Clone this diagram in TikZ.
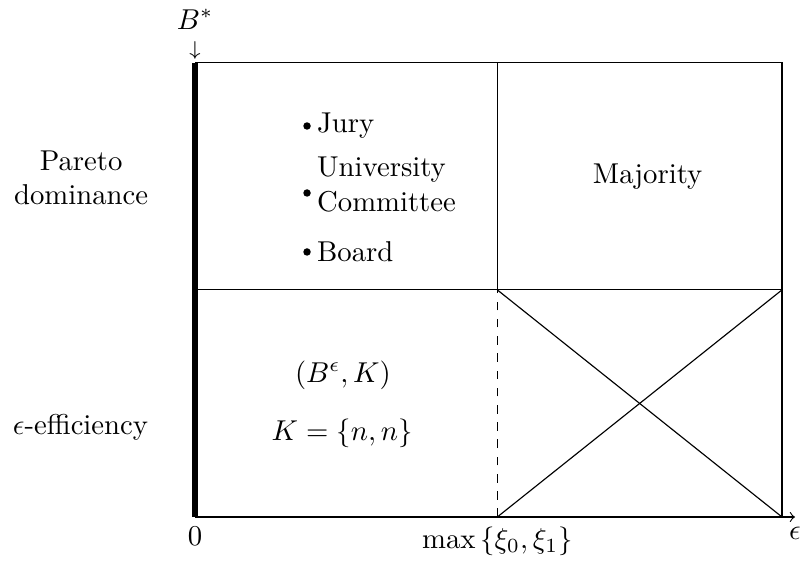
\documentclass[tikz,border=0pt]{standalone}
\usepackage{amsfonts, amssymb, amsmath}
\usepackage{tikz}

\begin{document}
\begin{tikzpicture}[>=to]
    \useasboundingbox (-2.387,-0.539) rectangle (7.405,6.328);

    \coordinate (o) at (0,0);
    \coordinate (xi) at (3.70,0);
    \coordinate (r) at (7.185,0);
    \coordinate (xend) at (7.344,0);
    \coordinate (ml) at (0,2.78);
    \coordinate (mm) at (3.70,2.78);
    \coordinate (mr) at (7.185,2.78);
    \coordinate (tl) at (0,5.56);
    \coordinate (tm) at (3.70,5.56);
    \coordinate (tr) at (7.185,5.56);

    \draw[->] (o) -- (xend) node[below] (eps) {$\epsilon$};
    \draw (tl) -- (tr) -- (r);
    \draw (ml) -- (mr);
    \draw (mm) -- (tm);
    \draw[dashed] (xi) -- (mm);
    \draw (xi) -- (mr);
    \draw (mm) -- (r);
    \draw[line width=1.8pt] (o) -- (tl);

    \node[anchor=south, inner sep=0pt] (arr) at ([yshift=0.03cm]tl) {$\scriptstyle\downarrow$};
    \node[anchor=base, inner sep=0pt] (bstar) at ([yshift=0.41cm]tl) {$B^*$};
    \node[below] (zero) at (o) {$0$};
    \node[below] (maxxi) at (xi) {$\max\left\{\xi_0,\xi_1\right\}$};

    \node[anchor=east, align=center] (pareto) at (-0.45,4.15) {Pareto\\dominance};
    \node[anchor=east] (effic) at (-0.45,1.10) {$\epsilon$-efficiency};

    \fill (1.371,4.786) circle (1.3pt) node[right] (jury) {Jury};
    \fill (1.371,3.966) circle (1.3pt) node[right, align=left, yshift=3pt] (univ) {University\\Committee};
    \fill (1.371,3.244) circle (1.3pt) node[right] (board) {Board};

    \node (major) at (5.54,4.17) {Majority};
    \node (beps) at (1.81,1.738) {$(B^\epsilon, K)$};
    \node (kset) at (1.80,1.03) {$K = \{n, n\}$};
\end{tikzpicture}
\end{document}
